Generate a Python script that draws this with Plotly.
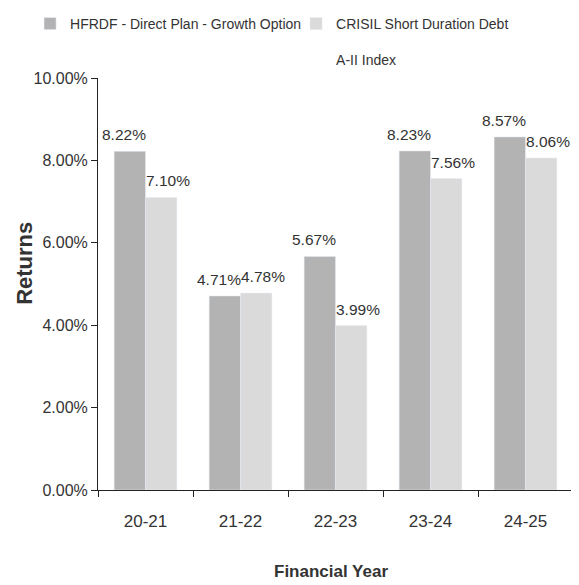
import plotly.graph_objects as go

# Données
years = ["20-21", "21-22", "22-23", "23-24", "24-25"]
fund_returns = [8.22, 4.71, 5.67, 8.23, 8.57]
index_returns = [7.10, 4.78, 3.99, 7.56, 8.06]
fund_name = "HFRDF - Direct Plan - Growth Option"
index_name = "CRISIL Short Duration Debt<br><br>A-II Index"
y_ticks = [0, 2, 4, 6, 8, 10]
y_labels = [f"{v:.2f}%" for v in y_ticks]

font_fam = "Liberation Sans, Arial, sans-serif"
txt = "#333333"

fig = go.Figure()
fig.add_trace(go.Bar(x=years, y=fund_returns, name=fund_name,
                     marker_color="#b3b3b3", legend="legend"))
fig.add_trace(go.Bar(x=years, y=index_returns, name=index_name,
                     marker_color="#dadada", legend="legend2"))

# étiquettes au-dessus des barres, un peu décalées vers l'extérieur de chaque paire
for vals, shift in [(fund_returns, -22), (index_returns, 22)]:
    for yr, v in zip(years, vals):
        fig.add_annotation(
            x=yr, y=v, xref="x", yref="y", text=f"{v:.2f}%",
            showarrow=False, xanchor="center", yanchor="bottom",
            xshift=shift, yshift=6,
            font=dict(family=font_fam, size=15.5, color=txt),
        )

# titres des axes
fig.add_annotation(text="<b>Returns</b>", xref="paper", yref="paper",
                   x=-0.154, y=0.551, textangle=-90, showarrow=False,
                   xanchor="center", yanchor="middle",
                   font=dict(family=font_fam, size=22, color=txt))
fig.add_annotation(text="<b>Financial Year</b>", xref="paper", yref="paper",
                   x=0.4905, y=-0.199, showarrow=False,
                   xanchor="center", yanchor="middle",
                   font=dict(family=font_fam, size=17, color=txt))

leg_common = dict(
    orientation="h", yanchor="top", xanchor="left", y=1.17,
    font=dict(family=font_fam, size=14, color=txt),
    valign="top", itemwidth=30, bgcolor="rgba(0,0,0,0)",
)

# la page ajoute 8 px de marge autour du graphique
fig.update_layout(
    width=571, height=577,
    margin=dict(l=90, r=6, t=70, b=95, autoexpand=False),
    plot_bgcolor="white", paper_bgcolor="white",
    barmode="group", bargap=0.34, bargroupgap=0,
    font=dict(family=font_fam, size=16, color=txt),
    showlegend=True,
    legend=dict(x=-0.143, **leg_common),
    legend2=dict(x=0.417, **leg_common),
)
fig.update_xaxes(
    showline=True, linecolor="#222", linewidth=1,
    ticks="outside", tickson="boundaries", ticklen=6, tickcolor="#222",
    ticklabelstandoff=16,
    tickfont=dict(family=font_fam, size=17, color=txt),
    showgrid=False,
)
fig.update_yaxes(
    range=[0, 10], tickmode="array", tickvals=y_ticks, ticktext=y_labels,
    showline=True, linecolor="#222", linewidth=1,
    ticks="outside", ticklen=6, tickcolor="#222",
    tickfont=dict(family=font_fam, size=16, color=txt),
    showgrid=False, zeroline=False,
)

fig.write_html("out.html")
